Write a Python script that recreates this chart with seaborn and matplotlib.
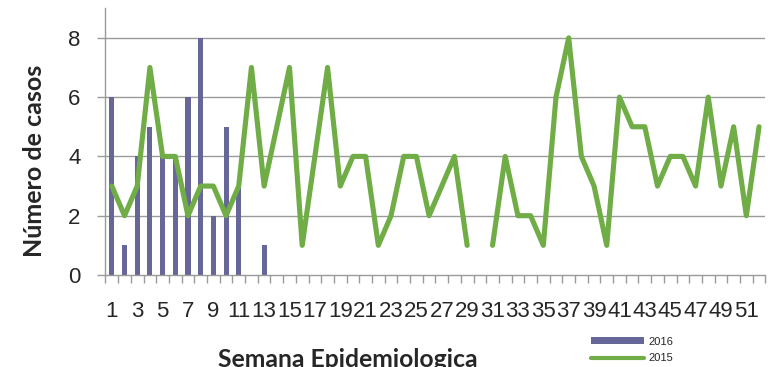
import numpy as np
import pandas as pd
import matplotlib
matplotlib.use("Agg")
import matplotlib.pyplot as plt
import seaborn as sns
from matplotlib.ticker import FixedLocator
from matplotlib.patches import Patch
from matplotlib.lines import Line2D

# Weekly case counts by epidemiological week
weeks = list(range(1, 53))
cases_2016 = [6, 1, 4, 5, 4, 4, 6, 8, 2, 5, 3, 0, 1]
cases_2015 = [3, 2, 3, 7, 4, 4, 2, 3, 3, 2, 3, 7, 3, 5, 7, 1, 4, 7, 3, 4,
              4, 1, 2, 4, 4, 2, 3, 4, 1, np.nan, 1, 4, 2, 2, 1, 6, 8, 4, 3, 1,
              6, 5, 5, 3, 4, 4, 3, 6, 3, 5, 2, 5]
y_ticks = [0, 2, 4, 6, 8]

sns.set_theme(style="white")
plt.rcParams["font.family"] = ["Liberation Sans", "DejaVu Sans"]

bar_c = "#666699"
line_c = "#70AD47"
grid_c = "#9a9a9a"

bars = pd.DataFrame({
    "semana": [str(w) for w in weeks],
    "casos": cases_2016 + [np.nan] * (len(weeks) - len(cases_2016)),
})
line = pd.DataFrame({"pos": np.arange(len(weeks)), "casos": cases_2015})
# split the 2015 series where a week is missing so the line breaks there
line["tramo"] = line["casos"].isna().cumsum()
line = line.dropna()

fig = plt.figure(figsize=(7.7, 3.67), dpi=100)
ax = fig.add_axes([0.137, 0.2507, 0.857, 0.727])

for v in y_ticks[1:]:
    ax.axhline(v, color=grid_c, lw=1.0, zorder=0)

sns.barplot(data=bars, x="semana", y="casos", order=[str(w) for w in weeks],
            color=bar_c, saturation=1, width=0.4, linewidth=0, ax=ax, zorder=2)
sns.lineplot(data=line, x="pos", y="casos", units="tramo", estimator=None,
             color=line_c, lw=3.7, ax=ax, zorder=3, legend=False)

ax.set_xlim(-0.5, len(weeks) - 0.5)
ax.set_ylim(0, 9)
ax.set_yticks(y_ticks)
ax.set_yticklabels([str(v) for v in y_ticks], fontsize=16)

ax.set_xticks(range(len(weeks)))
ax.set_xticklabels([str(w) if w % 2 == 1 else "" for w in weeks], fontsize=16)
ax.tick_params(axis="x", which="major", length=0, pad=19)
ax.xaxis.set_minor_locator(FixedLocator(np.arange(-0.5, len(weeks), 1)))
ax.tick_params(axis="x", which="minor", length=6, color=grid_c, width=1,
               bottom=True)
ax.tick_params(axis="y", length=6, color=grid_c, width=1, left=True, pad=12)

for s in ["top", "right"]:
    ax.spines[s].set_visible(False)
for s in ["left", "bottom"]:
    ax.spines[s].set_color(grid_c)
    ax.spines[s].set_linewidth(1.0)

ax.set_xlabel("Semana Epidemiologica", fontsize=17.8, fontweight="bold",
              family=["Lato", "DejaVu Sans"])
ax.xaxis.set_label_coords(0.367, -0.272)
ax.set_ylabel("Número de casos", fontsize=18, fontweight="bold",
              family=["Lato", "DejaVu Sans"])
ax.yaxis.set_label_coords(-0.09, 0.427)

handles = [Patch(facecolor=bar_c, edgecolor="none", label="2016"),
           Line2D([], [], color=line_c, lw=3, solid_capstyle="round",
                  label="2015")]
ax.legend(handles=handles, loc="upper left", bbox_to_anchor=(0.727, -0.21),
          frameon=False, fontsize=8, handlelength=4.8, handleheight=0.55,
          labelspacing=0.6, handletextpad=0.4, borderpad=0)

fig.savefig("out.png", dpi=100)
